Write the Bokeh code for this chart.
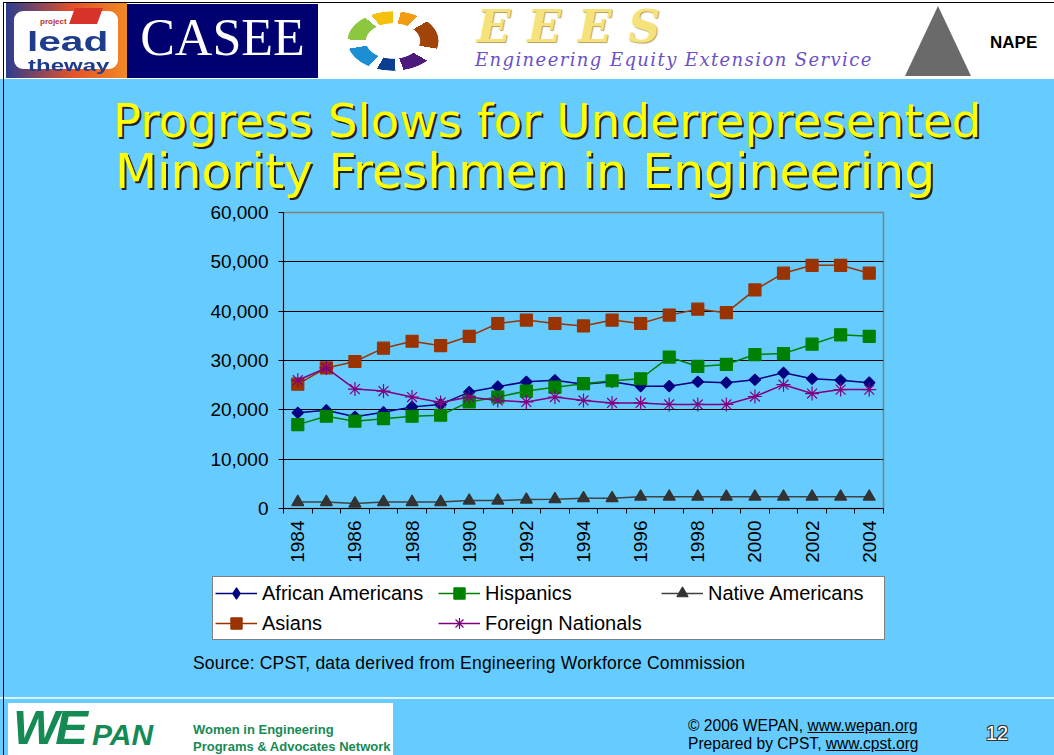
import math
from bokeh.plotting import figure
from bokeh.models import (Range1d, FixedTicker, NumeralTickFormatter, Legend, LegendItem, Div)
from bokeh.layouts import column, row
from bokeh.embed import file_html
from bokeh.resources import INLINE

# ---------------- data ----------------
years = list(range(1984, 2005))
african_americans = [19400, 19900, 18600, 19500, 20600, 21100, 23600, 24700, 25700,
                     26000, 25200, 25700, 24800, 24800, 25700, 25500, 26100, 27500,
                     26300, 26000, 25500]
hispanics = [17000, 18700, 17700, 18200, 18700, 18900, 21600, 22600, 23800,
             24600, 25300, 25900, 26300, 30700, 28800, 29200, 31200, 31400,
             33300, 35200, 34900]
native_americans = [1300, 1300, 1000, 1300, 1300, 1300, 1600, 1600, 1800,
                    1900, 2100, 2100, 2400, 2400, 2400, 2400, 2400, 2400,
                    2400, 2400, 2400]
asians = [25200, 28500, 29800, 32500, 33900, 33000, 34900, 37500, 38200,
          37500, 37000, 38200, 37500, 39200, 40400, 39700, 44300, 47700,
          49300, 49300, 47700]
foreign_nationals = [26000, 28500, 24200, 23800, 22600, 21500, 22600, 21900, 21600,
                     22600, 21900, 21400, 21400, 21100, 21100, 21100, 22700, 25100,
                     23300, 24100, 24100]
series_names = ["African Americans", "Hispanics", "Native Americans", "Asians", "Foreign Nationals"]
series_values = [african_americans, hispanics, native_americans, asians, foreign_nationals]
x_tick_labels = list(range(1984, 2005, 2))
y_ticks = [0, 10000, 20000, 30000, 40000, 50000, 60000]

title_line1 = "Progress Slows for Underrepresented"
title_line2 = "Minority Freshmen in Engineering"
source_text = "Source: CPST, data derived from Engineering Workforce Commission"

# ---------------- styles ----------------
BG = "#66CCFF"
styles = [
    dict(color="#000080", line="#000080", marker="square", size=8, angle=math.pi / 4, lmarker="diamond"),
    dict(color="#008000", line="#008000", marker="square", size=12, angle=0, lmarker="square"),
    dict(color="#333333", line="#404040", marker="triangle", size=12, angle=0, lmarker="triangle"),
    dict(color="#993300", line="#993300", marker="square", size=12, angle=0, lmarker="square"),
    dict(color="#800080", line="#800080", marker="asterisk", size=14, angle=0, lmarker="asterisk"),
]

# ---------------- chart ----------------
p = figure(width=1049, height=371,
           x_range=Range1d(1983.5, 2004.5), y_range=Range1d(0, 60000),
           output_backend="svg", toolbar_location=None,
           min_border_left=278, min_border_right=171,
           min_border_top=11, min_border_bottom=64)
p.background_fill_color = BG
p.border_fill_color = BG
p.outline_line_color = "#808080"
p.outline_line_width = 1.5

p.xaxis.ticker = FixedTicker(ticks=x_tick_labels,
                             minor_ticks=[y - 0.5 for y in years] + [years[-1] + 0.5])
p.xaxis.major_label_orientation = math.pi / 2
p.xaxis.major_tick_line_color = None
p.xaxis.major_tick_out = 5
p.xaxis.major_tick_in = 0
p.xaxis.minor_tick_line_color = "black"
p.xaxis.minor_tick_out = 5
p.xaxis.minor_tick_in = 0
p.xaxis.major_label_standoff = 7
p.xaxis.axis_line_color = "black"
p.xaxis.major_label_text_font = "Liberation Sans"
p.xaxis.major_label_text_font_size = "19px"
p.xaxis.major_label_text_color = "black"

p.yaxis.ticker = FixedTicker(ticks=y_ticks)
p.yaxis.formatter = NumeralTickFormatter(format="0,0")
p.yaxis.major_tick_out = 5
p.yaxis.major_tick_in = 0
p.yaxis.minor_tick_line_color = None
p.yaxis.major_label_standoff = 10
p.yaxis.axis_line_color = "black"
p.yaxis.major_tick_line_color = "black"
p.yaxis.major_label_text_font = "Liberation Sans"
p.yaxis.major_label_text_font_size = "19px"
p.yaxis.major_label_text_color = "black"

p.xgrid.grid_line_color = None
p.ygrid.ticker = FixedTicker(ticks=y_ticks[1:-1])
p.ygrid.grid_line_color = "black"
p.ygrid.grid_line_width = 1

for name, vals, st in zip(series_names, series_values, styles):
    p.line(years, vals, line_color=st["line"], line_width=1.5)
    p.scatter(years, vals, marker=st["marker"], size=st["size"], angle=st["angle"],
              fill_color=st["color"], line_color=st["color"], line_width=1.2)

# ---------------- legend (own canvas below the chart; its ranges keep the
# series themselves out of view, only the legend is visible) ----------------
lg = figure(width=1049, height=80, x_range=Range1d(0, 1), y_range=Range1d(-2, -1),
            output_backend="svg", toolbar_location=None,
            x_axis_location=None, y_axis_location=None, min_border=0)
lg.background_fill_color = BG
lg.border_fill_color = BG
lg.outline_line_color = None
lg.xgrid.visible = False
lg.ygrid.visible = False
items = []
for name, vals, st in zip(series_names, series_values, styles):
    lr = lg.line(years, vals, line_color=st["line"], line_width=1.5)
    sr = lg.scatter(years, vals, marker=st["lmarker"],
                    fill_color=st["color"], line_color=st["color"], line_width=1.2)
    items.append(LegendItem(label=name, renderers=[lr, sr]))
legend = Legend(items=items, location=(207, 12), orientation="horizontal", ncols=3,
                background_fill_color="white", background_fill_alpha=1.0,
                border_line_color="black", border_line_width=1,
                label_text_font="Liberation Sans", label_text_font_size="20px",
                label_text_color="black",
                glyph_width=42, glyph_height=28, label_height=28, label_width=174,
                label_standoff=5, spacing=2, padding=2, margin=0)
lg.add_layout(legend)

# ---------------- HTML parts ----------------
title_html = f"""
<div style="position:relative;width:1049px;height:119px;background:{BG};overflow:hidden;font-family:'DejaVu Sans',sans-serif;">
 <div style="position:absolute;left:42px;top:16px;width:1000px;text-align:center;font-size:46.9px;line-height:46.9px;color:#FFFF00;text-shadow:2px 2px 0 #222222;white-space:nowrap;">{title_line1}</div>
 <div style="position:absolute;left:20px;top:66px;width:1000px;text-align:center;font-size:48.8px;line-height:48.8px;color:#FFFF00;text-shadow:2px 2px 0 #222222;white-space:nowrap;">{title_line2}</div>
</div>
"""

source_html = f"""
<div style="position:relative;width:1049px;height:45px;background:{BG};overflow:hidden;font-family:'Liberation Sans',Arial,sans-serif;">
 <div style="position:absolute;left:188px;top:3px;font-size:17.5px;line-height:17.5px;letter-spacing:0.2px;color:#000000;white-space:nowrap;">{source_text}</div>
</div>
"""

def strip_html(h):
    return (f'<div style="position:relative;width:5px;height:{h}px;background:{BG};overflow:hidden;">'
            f'<div style="position:absolute;left:3px;top:0;width:1px;height:{h}px;background:#000000;"></div></div>')

pin = ("conic-gradient(from -40deg, #F4C20D 0deg 40deg, transparent 40deg 55deg, "
       "#F39C12 55deg 85deg, transparent 85deg 100deg, #A0440A 100deg 140deg, "
       "transparent 140deg 160deg, #4B1A7A 160deg 200deg, transparent 200deg 215deg, "
       "#0B3D91 215deg 250deg, transparent 250deg 265deg, #1C8FD4 265deg 300deg, "
       "transparent 300deg 312deg, #8DC63F 312deg 350deg, transparent 350deg 360deg)")
header_html = f"""
<div style="position:relative;width:1054px;height:82px;background:{BG};overflow:hidden;font-family:'Liberation Sans',Arial,sans-serif;">
 <div style="position:absolute;left:0;top:0;width:1054px;height:79px;background:#ffffff;"></div>
 <div style="position:absolute;left:3px;top:2px;width:1051px;height:1px;background:#000000;"></div>
 <div style="position:absolute;left:3px;top:2px;width:1px;height:80px;background:#000000;"></div>
 <div style="position:absolute;left:6px;top:3px;width:121px;height:75px;background:linear-gradient(90deg,#2b3d8f 0%,#e3512a 55%,#f08a24 100%);"></div>
 <div style="position:absolute;left:14px;top:11px;width:104px;height:58px;background:#ffffff;border-radius:9px;"></div>
 <div style="position:absolute;left:72px;top:8px;width:28px;height:16px;background:#d8332a;transform:skewX(-20deg);"></div>
 <div style="position:absolute;left:40px;top:17px;font-size:8px;line-height:9px;color:#c03030;font-weight:bold;">project</div>
 <div style="position:absolute;left:27px;top:26px;font-size:28px;line-height:31px;font-weight:bold;color:#1f3c8c;transform:scaleX(1.45);transform-origin:0 0;">lead</div>
 <div style="position:absolute;left:28px;top:57px;font-size:16px;line-height:18px;font-weight:bold;color:#1f3c8c;transform:scaleX(1.5);transform-origin:0 0;">theway</div>
 <div style="position:absolute;left:127px;top:4px;width:191px;height:74px;background:#000070;"></div>
 <div style="position:absolute;left:127px;top:6px;width:191px;text-align:center;font-family:'Liberation Serif',serif;font-size:52px;line-height:64px;color:#ffffff;">CASEE</div>
 <div style="position:absolute;left:347px;top:11px;width:92px;height:60px;border-radius:50%;background:{pin};-webkit-mask:radial-gradient(closest-side, transparent 58%, black 60%, black 98%, transparent 100%);mask:radial-gradient(closest-side, transparent 58%, black 60%, black 98%, transparent 100%);"></div>
 <div style="position:absolute;left:477px;top:4px;font-family:'DejaVu Serif',serif;font-style:italic;font-weight:bold;font-size:44px;line-height:46px;color:#F6E27A;text-shadow:1px 1px 1px #b0a060;letter-spacing:17px;white-space:nowrap;">EEES</div>
 <div style="position:absolute;left:475px;top:50px;font-family:'DejaVu Serif',serif;font-style:italic;font-size:18px;line-height:20px;color:#6A4FC8;letter-spacing:1.4px;white-space:nowrap;">Engineering Equity Extension Service</div>
 <div style="position:absolute;left:905px;top:6px;width:0;height:0;border-left:33px solid transparent;border-right:33px solid transparent;border-bottom:70px solid #6a6a6a;"></div>
 <div style="position:absolute;left:990px;top:31px;font-size:17px;font-weight:bold;color:#000000;">NAPE</div>
</div>
"""

footer_html = f"""
<div style="position:relative;width:1054px;height:58px;background:{BG};overflow:hidden;font-family:'Liberation Sans',Arial,sans-serif;">
 <div style="position:absolute;left:0;top:0;width:1054px;height:2px;background:#d8f2ff;"></div>
 <div style="position:absolute;left:3px;top:0;width:1px;height:58px;background:#000000;"></div>
 <div style="position:absolute;left:8px;top:6px;width:385px;height:52px;background:#ffffff;"></div>
 <div style="position:absolute;left:13px;top:6px;font-size:49px;line-height:49px;font-style:italic;font-weight:bold;color:#168a55;letter-spacing:-4px;white-space:nowrap;">WE</div>
 <div style="position:absolute;left:92px;top:24px;font-size:30px;line-height:28px;font-style:italic;font-weight:bold;color:#168a55;white-space:nowrap;">PAN</div>
 <div style="position:absolute;left:193px;top:24px;font-size:13px;line-height:17px;font-weight:bold;color:#168a55;white-space:nowrap;">Women in Engineering<br>Programs &amp; Advocates Network</div>
 <div style="position:absolute;left:688px;top:20px;font-size:15.6px;line-height:18px;color:#000000;white-space:nowrap;">&copy; 2006 WEPAN, <u>www.wepan.org</u><br>Prepared by CPST, <u>www.cpst.org</u></div>
 <div style="position:absolute;left:986px;top:26px;font-size:20px;line-height:20px;color:#ffffff;text-shadow:1px 1px 0 #333,-1px -1px 0 #333,1px -1px 0 #333,-1px 1px 0 #333;">12</div>
</div>
"""

bg_style = {"background-color": BG}
header = Div(text=header_html, width=1054, height=82, margin=0)
title_div = Div(text=title_html, width=1049, height=119, margin=0, styles=bg_style)
source_div = Div(text=source_html, width=1049, height=45, margin=0, styles=bg_style)
strip_top = Div(text=strip_html(490), width=5, height=490, margin=0, styles=bg_style)
strip_bot = Div(text=strip_html(125), width=5, height=125, margin=0, styles=bg_style)
footer = Div(text=footer_html, width=1054, height=58, margin=0, styles=bg_style)

upper = row(strip_top, column(title_div, p, spacing=0, styles=bg_style), spacing=0, styles=bg_style)
lower = row(strip_bot, column(lg, source_div, spacing=0, styles=bg_style), spacing=0, styles=bg_style)
layout = column(header, upper, lower, footer, spacing=0, styles=bg_style)
open("out.html", "w").write(file_html(layout, INLINE))
